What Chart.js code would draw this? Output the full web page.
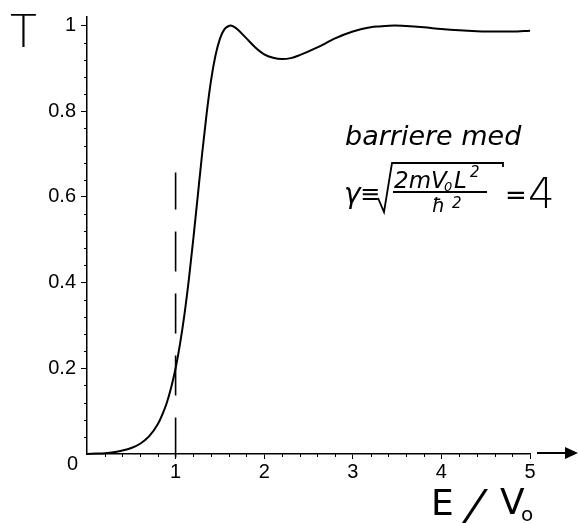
<!DOCTYPE html>
<html>
<head>
<meta charset="utf-8">
<script src="https://cdn.jsdelivr.net/npm/chart.js@4"></script>
<style>
  html, body { margin: 0; padding: 0; background: #fff; }
  canvas { display: block; }
</style>
</head>
<body>
<canvas id="chart" width="578" height="523"></canvas>
<script>
// values: E/V0 and transmission T
const energy = [0, 0.1, 0.2, 0.3, 0.4, 0.5, 0.6, 0.7, 0.8, 0.85, 0.9, 0.95, 1,
  1.05, 1.1, 1.15, 1.2, 1.25, 1.3, 1.35, 1.4, 1.45, 1.5, 1.55, 1.6, 1.62, 1.65,
  1.7, 1.8, 1.9, 2, 2.1, 2.2, 2.3, 2.4, 2.6, 2.8, 3, 3.2, 3.3, 3.47, 3.6, 3.8,
  4, 4.2, 4.4, 4.6, 4.8, 5];
const transmission = [0, 0.001, 0.002, 0.004, 0.008, 0.014, 0.024, 0.041, 0.070, 0.092, 0.119, 0.155, 0.200,
  0.257, 0.326, 0.408, 0.502, 0.602, 0.702, 0.794, 0.872, 0.930, 0.969, 0.991, 0.999, 1.0, 0.998,
  0.991, 0.970, 0.949, 0.933, 0.925, 0.922, 0.924, 0.931, 0.949, 0.970, 0.986, 0.996, 0.998, 1.0, 0.999, 0.996,
  0.992, 0.989, 0.987, 0.986, 0.986, 0.988];

// dashed marker at E = V0
const markX = [1, 1];
const markT = [-0.008, 0.657];

const xTicks = [1, 2, 3, 4, 5];
const yTicks = [0.2, 0.4, 0.6, 0.8, 1];

const hand = '"DejaVu Sans", sans-serif';
const tickFont = "'Liberation Sans', Arial, sans-serif";

// extra drawing: minor ticks, arrow, handwritten notes
const extras = {
  id: "extras",
  afterDraw(chart) {
    const ctx = chart.ctx;
    const xs = chart.scales.x, ys = chart.scales.y;
    const x0 = xs.getPixelForValue(0), y0 = ys.getPixelForValue(0);
    ctx.save();
    ctx.strokeStyle = "#000";
    ctx.fillStyle = "#000";
    ctx.lineWidth = 1;

    // minor ticks
    for (let i = 1; i < 26; i++) {
      if (i % 5 === 0) continue;
      const py = Math.round(ys.getPixelForValue(i * 0.04)) + 0.5;
      ctx.beginPath(); ctx.moveTo(x0 - 3, py); ctx.lineTo(x0, py); ctx.stroke();
    }
    for (let i = 1; i < 25; i++) {
      if (i % 5 === 0) continue;
      const px = Math.round(xs.getPixelForValue(i * 0.2)) + 0.5;
      ctx.beginPath(); ctx.moveTo(px, y0); ctx.lineTo(px, y0 + 3); ctx.stroke();
    }

    // origin label
    ctx.font = "20px " + tickFont;
    ctx.textAlign = "right";
    ctx.textBaseline = "middle";
    ctx.fillText("0", x0 - 9, y0 + 10);

    // arrow after the x axis
    ctx.lineWidth = 2;
    ctx.beginPath(); ctx.moveTo(537, y0 - 1); ctx.lineTo(567, y0 - 1); ctx.stroke();
    ctx.beginPath();
    ctx.moveTo(565, y0 - 7); ctx.lineTo(578, y0 - 1); ctx.lineTo(565, y0 + 5);
    ctx.closePath(); ctx.fill();

    // handwritten notes
    ctx.textAlign = "left";
    ctx.textBaseline = "alphabetic";
    ctx.font = "300 44px " + hand;
    ctx.fillText("T", 10, 47);

    ctx.font = "36px " + hand;
    ctx.fillText("E", 431, 515);
    ctx.fillText("V", 500, 514);
    ctx.save();
    ctx.transform(1, 0, -0.35, 1, 462, 521);
    ctx.font = "44px " + hand;
    ctx.fillText("/", 0, 0);
    ctx.restore();
    ctx.font = "20px " + hand;
    ctx.fillText("o", 521, 521);

    ctx.font = "italic 27px " + hand;
    ctx.fillText("barriere med", 345, 145);

    ctx.font = "italic 28px " + hand;
    ctx.fillText("\u03b3", 344, 203);
    ctx.font = "24px " + hand;
    ctx.fillText("\u2261", 360, 202);

    // root sign
    ctx.lineWidth = 1.8;
    ctx.beginPath();
    ctx.moveTo(378, 198); ctx.lineTo(384, 212); ctx.lineTo(392, 163);
    ctx.lineTo(503, 163); ctx.lineTo(503, 167);
    ctx.stroke();

    ctx.font = "italic 23px " + hand;
    ctx.fillText("2mV", 394, 188);
    ctx.font = "italic 13px " + hand;
    ctx.fillText("0", 444, 191);
    ctx.font = "italic 23px " + hand;
    ctx.fillText("L", 454, 188);
    ctx.font = "italic 15px " + hand;
    ctx.fillText("2", 470, 177);
    ctx.beginPath(); ctx.moveTo(393, 192); ctx.lineTo(487, 192); ctx.stroke();
    ctx.font = "italic 19px " + hand;
    ctx.fillText("\u0127", 432, 212);
    ctx.font = "italic 15px " + hand;
    ctx.fillText("2", 452, 208);

    ctx.font = "26px " + hand;
    ctx.fillText("=", 505, 204);
    ctx.font = "300 42px " + hand;
    ctx.fillText("4", 528, 208);
    ctx.restore();
  }
};

new Chart(document.getElementById("chart"), {
  type: "line",
  data: {
    datasets: [
      {
        data: energy.map((e, i) => ({ x: e, y: transmission[i] })),
        borderColor: "#000",
        borderWidth: 2,
        pointRadius: 0,
        cubicInterpolationMode: "monotone",
        clip: false
      },
      {
        data: markX.map((e, i) => ({ x: e, y: markT[i] })),
        borderColor: "#000",
        borderWidth: 1.6,
        borderDash: [40, 22],
        pointRadius: 0,
        clip: false
      }
    ]
  },
  options: {
    responsive: false,
    animation: false,
    devicePixelRatio: 1,
    layout: { padding: { top: 17, right: 48, left: 0, bottom: 0 } },
    plugins: { legend: { display: false }, tooltip: { enabled: false } },
    scales: {
      x: {
        type: "linear",
        min: 0,
        max: 5,
        afterFit: s => { s.height = 69; },
        afterBuildTicks: s => { s.ticks = xTicks.map(v => ({ value: v })); },
        ticks: {
          color: "#000",
          padding: 1,
          maxRotation: 0,
          font: { family: tickFont, size: 20 },
          callback: v => String(v)
        },
        grid: { drawOnChartArea: false, tickLength: 5, color: "#000", tickWidth: 1 },
        border: { color: "#000", width: 1.5 }
      },
      y: {
        min: 0,
        max: 1.02,
        afterFit: s => { s.width = 87; },
        afterBuildTicks: s => { s.ticks = yTicks.map(v => ({ value: v })); },
        ticks: {
          color: "#000",
          padding: 5,
          font: { family: tickFont, size: 20 },
          callback: v => String(v)
        },
        grid: { drawOnChartArea: false, tickLength: 6, color: "#000", tickWidth: 1 },
        border: { color: "#000", width: 1.5 }
      }
    }
  },
  plugins: [extras]
});
</script>
</body>
</html>
